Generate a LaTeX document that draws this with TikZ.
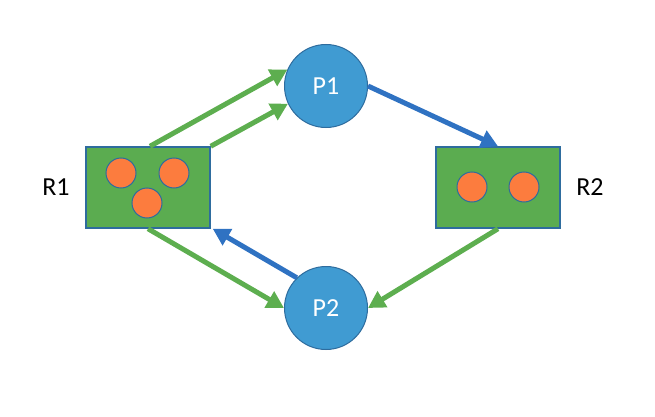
\documentclass[tikz,border=0pt]{standalone}
\usepackage{fontspec}
\setmainfont{Carlito}
\usetikzlibrary{arrows.meta}
\definecolor{rgreen}{HTML}{5BAC50}
\definecolor{agreen}{HTML}{5DAE4F}
\definecolor{pblue}{HTML}{409BD2}
\definecolor{edge}{HTML}{2E6C9E}
\definecolor{dorange}{HTML}{FC7C3E}
\definecolor{ablue}{HTML}{2F72C2}
\tikzset{
  res/.style={draw=edge, line width=1.5pt, fill=rgreen, minimum width=124pt, minimum height=81pt, inner sep=0pt},
  proc/.style={circle, draw=edge, line width=1pt, fill=pblue, minimum size=83pt, inner sep=0pt, text=white, font=\fontsize{26}{29}\selectfont},
  dot/.style={circle, draw=edge, line width=1pt, fill=dorange, minimum size=30pt, inner sep=0pt},
  lbl/.style={font=\fontsize{26}{29}\selectfont, inner sep=0pt},
  garr/.style={draw=agreen, line width=5pt, -{Triangle[length=17pt,width=18pt]}},
  barr/.style={draw=ablue, line width=5pt, -{Triangle[length=17pt,width=18pt]}},
}
\begin{document}
\begin{tikzpicture}[x=1pt,y=-1pt]
\useasboundingbox (0,0) rectangle (655,417);
\node[res] (R1) at (148,187.5) {};
\node[res] (R2) at (498,187.5) {};
\node[dot] (d1) at (121,173) {};
\node[dot] (d2) at (174,173) {};
\node[dot] (d3) at (147,203) {};
\node[dot] (d4) at (472,187) {};
\node[dot] (d5) at (524,187) {};
\node[proc] (P1) at (326,86) {P1};
\node[proc] (P2) at (326,308) {P2};
\node[lbl] (L1) at (56,187) {R1};
\node[lbl] (L2) at (590,187) {R2};
\draw[garr] ([xshift=2pt]R1.north) -- (P1.157);
\draw[garr] (R1.north east) -- (P1.205);
\draw[barr] (P1.east) -- (R2.north);
\draw[garr] (R2.south) -- (P2.east);
\draw[garr] (R1.south) -- (P2.west);
\draw[barr] (P2.134) -- ([xshift=2pt]R1.south east);
\end{tikzpicture}
\end{document}
